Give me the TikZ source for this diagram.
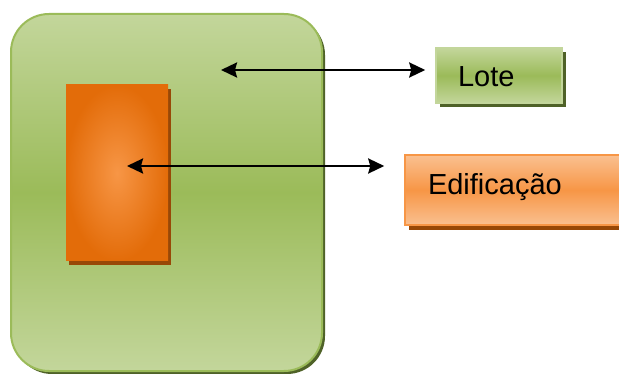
\documentclass[tikz,border=0pt]{standalone}
\usepackage{fontspec}
\setmainfont{Liberation Sans}
\usetikzlibrary{arrows.meta, shadows, calc}
\definecolor{lotelight}{RGB}{195, 214, 155}
\definecolor{lotemid}{RGB}{155, 187, 89}
\definecolor{loteshadow}{RGB}{79, 98, 40}
\definecolor{edlight}{RGB}{250, 192, 144}
\definecolor{edmid}{RGB}{247, 150, 70}
\definecolor{eddark}{RGB}{227, 108, 9}
\definecolor{edshadow}{RGB}{152, 72, 7}

\begin{document}
\begin{tikzpicture}[x=1pt, y=-1pt,
    greenfill/.style={top color=lotelight, bottom color=lotelight, middle color=lotemid},
    orangefill/.style={top color=edlight, bottom color=edlight, middle color=edmid},
    labelbox/.style={font=\fontsize{29pt}{33pt}\selectfont, align=left, text height=21pt, text depth=0pt},
    ptr/.style={{Stealth[length=16pt, width=15pt, inset=2pt]}-{Stealth[length=16pt, width=15pt, inset=2pt]}, line width=2.5pt}]
    \useasboundingbox (0, 0) rectangle (619, 374);

    % Lot and building
    \node[draw=lotemid, line width=2pt, greenfill, rounded corners=38pt, minimum width=311pt, minimum height=357pt,
          general shadow={fill=loteshadow, shadow xshift=3pt, shadow yshift=-3pt}] (terreno) at (166.5, 192.5) {};
    \node[inner color=edmid, outer color=eddark, minimum width=102pt, minimum height=176pt,
          general shadow={fill=edshadow, shadow xshift=3pt, shadow yshift=-4pt}] (casa) at (117, 173) {};

    % Labels
    \node[labelbox, draw=lotelight, line width=1.5pt, greenfill, inner xsep=22pt, text width=82pt, minimum height=55pt, text height=23pt,
          general shadow={fill=loteshadow, shadow xshift=4pt, shadow yshift=-4pt}] (lote) at (499, 75.5) {Lote};
    \node[labelbox, draw=edmid, line width=1.5pt, orangefill, inner xsep=23pt, text width=174pt, minimum height=70pt, text depth=11pt,
          general shadow={fill=edshadow, shadow xshift=4pt, shadow yshift=-5pt}] (edif) at (515, 190) {Edificação};

    % Arrows
    \coordinate (lotetip) at (221, 70);
    \coordinate (casatip) at (127, 166);
    \draw[ptr, shorten >=10pt] (lotetip) -- (lotetip -| lote.west);
    \draw[ptr, shorten >=20pt] (casatip) -- (casatip -| edif.west);
\end{tikzpicture}
\end{document}
